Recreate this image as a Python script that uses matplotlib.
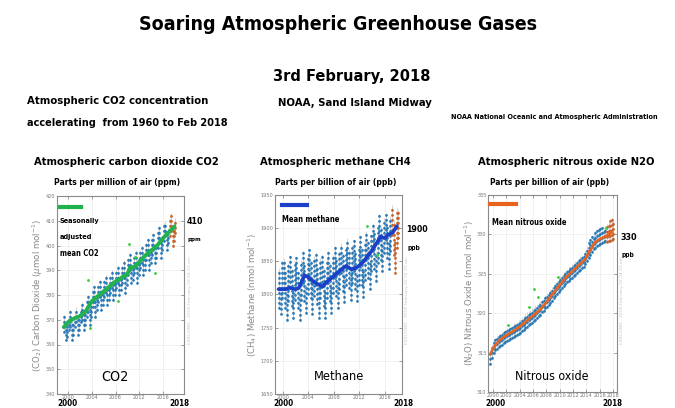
import matplotlib
matplotlib.use("Agg")
import matplotlib.pyplot as plt
from matplotlib import font_manager
from matplotlib.font_manager import FontProperties

#--------------------------------------------------------------------------------------
#Font : look for a condensed / narrow face, the slide font is narrow
ttf = font_manager.fontManager.ttflist
narrow = [f for f in ttf if any(k in f.fname.lower() for k in ("narrow", "condensed"))
          and "oblique" not in f.fname.lower() and "italic" not in f.fname.lower()]
BOLD_FILE = None
REG_FILE = None
for f in narrow:
    if "bold" in f.fname.lower() and BOLD_FILE is None:
        BOLD_FILE = f.fname
    if "bold" not in f.fname.lower() and REG_FILE is None:
        REG_FILE = f.fname
names = set(f.name for f in ttf)
FALLBACK = "Roboto" if "Roboto" in names else "Liberation Sans"

#--------------------------------------------------------------------------------------
#Data : seasonally adjusted / mean lines
co2_mean_t = [1999.3, 2000, 2001, 2002, 2003, 2004, 2005, 2006, 2007, 2008, 2009, 2010,
              2010.4, 2011.3, 2012, 2013, 2014, 2015, 2016, 2017, 2017.9]
co2_mean_v = [367, 369, 370.5, 371.5, 373.5, 377.5, 379.5, 381.5, 383.5, 385.5, 387, 388.5,
              391, 391.5, 393.5, 396, 398, 400, 403, 405.5, 407.7]

ch4_mean_t = [1999.3, 2000.5, 2001, 2002, 2002.5, 2003.4, 2004, 2005, 2006.2, 2007, 2008, 2009,
              2009.9, 2010.8, 2011.5, 2012.5, 2013.5, 2014.5, 2015.3, 2016, 2016.5, 2017.2, 2017.9]
ch4_mean_v = [1808, 1808, 1810, 1808, 1810, 1829, 1826, 1818, 1812, 1820, 1828, 1836,
              1843, 1838, 1840, 1848, 1860, 1874, 1887, 1885, 1890, 1893, 1903]

n2o_mean_t = [1999.6, 2000.2, 2001, 2002, 2003, 2004, 2005, 2006, 2007, 2008, 2009, 2010,
              2011, 2012, 2013, 2013.8, 2014.5, 2015.3, 2016, 2017, 2017.9]
n2o_mean_v = [314.8, 315.8, 316.6, 317.2, 317.7, 318.3, 319.0, 319.7, 320.4, 321.4, 322.5, 323.6,
              324.6, 325.4, 326.2, 326.8, 327.9, 329.0, 329.4, 329.8, 330.3]

#Data : flask sample columns (time, low, high), blue = older, orange = recent
co2_t = [1999.37, 1999.62, 1999.87,
         2000.12, 2000.37, 2000.62, 2000.87, 2001.12, 2001.37, 2001.62, 2001.87,
         2002.12, 2002.37, 2002.62, 2002.87, 2003.12, 2003.37, 2003.62, 2003.87,
         2004.12, 2004.37, 2004.62, 2004.87, 2005.12, 2005.37, 2005.62, 2005.87,
         2006.12, 2006.37, 2006.62, 2006.87, 2007.12, 2007.37, 2007.62, 2007.87,
         2008.12, 2008.37, 2008.62, 2008.87, 2009.12, 2009.37, 2009.62, 2009.87,
         2010.12, 2010.37, 2010.62, 2010.87, 2011.12, 2011.37, 2011.62, 2011.87,
         2012.12, 2012.37, 2012.62, 2012.87, 2013.12, 2013.37, 2013.62, 2013.87,
         2014.12, 2014.37, 2014.62, 2014.87, 2015.12, 2015.37, 2015.62, 2015.87,
         2016.12, 2016.37, 2016.62, 2016.87]
co2_lo = [365, 362, 363,
          366, 367, 362, 364, 367, 369, 364, 366,
          369, 370, 366, 368, 371, 373, 368, 371,
          375, 377, 371, 374, 377, 379, 374, 376,
          379, 381, 376, 378, 381, 383, 378, 380,
          383, 385, 380, 382, 385, 387, 381, 384,
          388, 390, 385, 386, 389, 391, 385, 388,
          391, 393, 388, 390, 394, 396, 390, 393,
          396, 398, 393, 395, 399, 401, 395, 398,
          402, 404, 398, 401]
co2_hi = [372, 369, 368,
          372, 374, 370, 369, 373, 375, 371, 371,
          375, 377, 373, 373, 378, 380, 375, 377,
          382, 384, 379, 380, 384, 386, 381, 382,
          386, 388, 383, 384, 388, 390, 385, 386,
          390, 392, 387, 388, 392, 394, 389, 390,
          395, 397, 392, 392, 396, 398, 393, 394,
          398, 400, 395, 396, 401, 403, 398, 399,
          403, 405, 400, 401, 406, 408, 403, 404,
          409, 410, 406, 407]
co2_new_t = [2017.12, 2017.37, 2017.62, 2017.87, 2018.05]
co2_new_lo = [404, 406, 400, 402, 405]
co2_new_hi = [411, 413, 408, 409, 411]
co2_rej_t = [2003.4, 2003.7, 2008.4, 2010.3, 2011.3, 2014.6]
co2_rej_v = [386, 366.8, 377.7, 400.8, 395.5, 389]

ch4_t = co2_t
ch4_lo = [1780, 1770, 1795,
          1810, 1780, 1762, 1790, 1812, 1782, 1765, 1792,
          1810, 1780, 1762, 1792, 1818, 1790, 1772, 1800,
          1822, 1795, 1770, 1798, 1815, 1785, 1765, 1795,
          1812, 1782, 1765, 1795, 1818, 1790, 1772, 1802,
          1825, 1798, 1780, 1808, 1832, 1805, 1788, 1815,
          1840, 1810, 1792, 1818, 1836, 1808, 1790, 1815,
          1842, 1815, 1796, 1822, 1852, 1825, 1808, 1835,
          1865, 1838, 1820, 1848, 1880, 1852, 1835, 1862,
          1882, 1855, 1838, 1865]
ch4_hi = [1840, 1815, 1850,
          1855, 1835, 1805, 1848, 1858, 1838, 1808, 1850,
          1856, 1836, 1806, 1852, 1865, 1848, 1818, 1860,
          1868, 1850, 1822, 1858, 1862, 1842, 1812, 1855,
          1860, 1840, 1810, 1855, 1866, 1848, 1818, 1860,
          1872, 1855, 1825, 1866, 1878, 1862, 1832, 1872,
          1885, 1868, 1838, 1875, 1882, 1865, 1835, 1872,
          1888, 1870, 1842, 1880, 1896, 1880, 1852, 1890,
          1908, 1892, 1865, 1902, 1920, 1905, 1880, 1915,
          1922, 1908, 1882, 1918]
ch4_new_t = co2_new_t
ch4_new_lo = [1890, 1860, 1833, 1870, 1885]
ch4_new_hi = [1935, 1912, 1880, 1930, 1928]
ch4_rej_t = [2013.2, 2014.7]
ch4_rej_v = [1903, 1859]

n2o_t = co2_t[1:]
n2o_lo = [313.6, 314.3,
          315.0, 315.3, 315.5, 315.7, 315.8, 316.0, 316.2, 316.3,
          316.5, 316.6, 316.7, 316.8, 317.0, 317.1, 317.2, 317.4,
          317.5, 317.7, 317.9, 318.1, 318.3, 318.5, 318.6, 318.8,
          319.0, 319.2, 319.4, 319.6, 319.8, 320.1, 320.3, 320.6,
          320.8, 321.1, 321.3, 321.6, 321.9, 322.2, 322.4, 322.7,
          322.9, 323.2, 323.4, 323.7, 323.9, 324.1, 324.3, 324.5,
          324.7, 324.9, 325.1, 325.3, 325.5, 325.7, 325.9, 326.2,
          326.6, 327.0, 327.4, 327.8, 328.1, 328.3, 328.5, 328.7,
          328.8, 328.9, 329.0, 329.1]
n2o_hi = [315.3, 316.1,
          316.7, 316.9, 317.1, 317.3, 317.4, 317.6, 317.7, 317.9,
          318.1, 318.2, 318.3, 318.4, 318.7, 318.8, 318.9, 319.1,
          319.3, 319.5, 319.7, 319.9, 320.1, 320.3, 320.4, 320.6,
          320.8, 321.0, 321.2, 321.4, 321.6, 321.8, 322.1, 322.3,
          322.6, 322.8, 323.1, 323.3, 323.6, 323.9, 324.1, 324.4,
          324.7, 324.9, 325.2, 325.4, 325.6, 325.8, 326.0, 326.2,
          326.4, 326.6, 326.8, 327.0, 327.2, 327.4, 327.6, 328.0,
          328.5, 329.0, 329.4, 329.8, 330.1, 330.4, 330.6, 330.7,
          330.8, 330.9, 331.0, 331.1]
n2o_new_t = co2_new_t
n2o_new_lo = [329.0, 329.1, 329.2, 329.3, 329.4]
n2o_new_hi = [331.3, 331.6, 331.9, 332.2, 332.0]
n2o_rej_t = [2002.25, 2005.4, 2006.1, 2006.7, 2009.8, 2016.9]
n2o_rej_v = [318.5, 320.8, 323.1, 322.0, 324.6, 330.8]

#--------------------------------------------------------------------------------------
#Layout helpers (pixels of a 675x408 slide)
W, H = 675, 408
fig = plt.figure(figsize=(6.75, 4.08), dpi=100)
fig.patch.set_facecolor("white")
renderer = fig.canvas.get_renderer()
GROW = 1.05   #slide font is narrower, so let the text run a touch wider

def rect(x0, y0, x1, y1):
    return [x0 / W, 1 - y1 / H, (x1 - x0) / W, (y1 - y0) / H]

def font(bold, size):
    path = BOLD_FILE if bold else REG_FILE
    if path:
        fp = FontProperties(fname=path)
    else:
        fp = FontProperties(family=FALLBACK, weight="bold" if bold else "normal")
    fp.set_size(size)
    return fp

def txt(x, y, s, w=None, size=10, bold=True, **kw):
    #text placed in slide pixels; w = width in pixels it has in the slide
    kw.setdefault("ha", "center")
    kw.setdefault("va", "center")
    kw.setdefault("color", "black")
    t = fig.text(x / W, 1 - y / H, s, fontproperties=font(bold, size), **kw)
    if w:
        ext = t.get_window_extent(renderer=renderer)
        t.set_fontproperties(font(bold, size * GROW * w / ext.width))
    return t

BLUE = "#2a7ab8"
ORANGE = "#c8642a"
DOTS = (0, (0.1, 1.7))

def panel(box, xlim, ylim, yticks, xticks, ylabel, t, lo, hi, nt, nlo, nhi,
          rt, rv, mt, mv, mcolor, mlw):
    ax = fig.add_axes(rect(*box))
    ax.vlines(t, lo, hi, color="#cfcfcf", lw=0.6, zorder=1)
    ax.vlines(t, lo, hi, color=BLUE, lw=2.0, linestyles=[DOTS], capstyle="round", zorder=2)
    ax.vlines(nt, nlo, nhi, color="#cfcfcf", lw=0.6, zorder=1)
    ax.vlines(nt, nlo, nhi, color=ORANGE, lw=2.0, linestyles=[DOTS], capstyle="round", zorder=2)
    ax.scatter(rt, rv, s=4, color="#33cc33", zorder=3, linewidths=0)
    ax.plot(mt, mv, color=mcolor, lw=mlw, zorder=4, solid_capstyle="round")
    ax.set_xlim(*xlim)
    ax.set_ylim(*ylim)
    ax.set_xticks(xticks)
    ax.set_yticks(yticks)
    ax.grid(color="#ececec", lw=0.5)
    ax.set_axisbelow(True)
    ax.tick_params(direction="in", length=2, width=0.5, labelsize=3.6, colors="#777777",
                   pad=1.0, top=True, right=True)
    for s in ax.spines.values():
        s.set_color("#8a8a8a")
        s.set_linewidth(0.8)
    ax.set_ylabel(ylabel, fontsize=6.2, color="#888888", family="DejaVu Sans", labelpad=1)
    return ax

ax1 = panel((57, 196, 184, 394), (1998.15, 2019.5), (340, 420), range(340, 421, 10),
            range(2000, 2017, 4), "(CO$_2$) Carbon Dioxide ($\\mu$mol mol$^{-1}$)",
            co2_t, co2_lo, co2_hi, co2_new_t, co2_new_lo, co2_new_hi,
            co2_rej_t, co2_rej_v, co2_mean_t, co2_mean_v, "#22b24c", 2.8)
ax2 = panel((275, 195, 402, 394), (1998.75, 2018.7), (1650, 1950), range(1650, 1951, 50),
            range(2000, 2017, 4), "(CH$_4$) Methane (nmol mol$^{-1}$)",
            ch4_t, ch4_lo, ch4_hi, ch4_new_t, ch4_new_lo, ch4_new_hi,
            ch4_rej_t, ch4_rej_v, ch4_mean_t, ch4_mean_v, "#1c3fc8", 2.6)
ax3 = panel((488, 195, 617, 392), (1999.25, 2018.6), (310, 335), range(310, 336, 5),
            range(2000, 2019, 2), "(N$_2$O) Nitrous Oxide (nmol mol$^{-1}$)",
            n2o_t, n2o_lo, n2o_hi, n2o_new_t, n2o_new_lo, n2o_new_hi,
            n2o_rej_t, n2o_rej_v, n2o_mean_t, n2o_mean_v, "#e8641e", 1.9)

#faint stamp on the right edge of each plot
for xs, yc in [(190, 300), (407, 300), (622, 300)]:
    fig.text(xs / W, 1 - yc / H, "ESRL/GMD - 2018 February-03 04:10 am", rotation=90,
             fontsize=3.2, color="#c8c8c8", family="DejaVu Sans", ha="center", va="center")

#--------------------------------------------------------------------------------------
#Slide texts
txt(338, 25, "Soaring Atmospheric Greenhouse Gases", w=378, size=17)
txt(352, 76, "3rd February, 2018", w=150, size=14)
txt(355, 103, "NOAA, Sand Island Midway", w=145, size=10)
txt(27, 101, "Atmospheric CO2 concentration", w=172, size=10, ha="left")
txt(27, 123, "accelerating  from 1960 to Feb 2018", w=190, size=10, ha="left")
txt(554, 117, "NOAA National Oceanic and Atmospheric Administration", w=201, size=6)

txt(126, 162, "Atmospheric carbon dioxide CO2", w=174, size=10)
txt(335, 162, "Atmospheric methane CH4", w=143, size=10)
txt(566, 162, "Atmospheric nitrous oxide N2O", w=168, size=10)
txt(117, 183, "Parts per million of air (ppm)", w=120, size=8)
txt(336, 183, "Parts per billion of air (ppb)", w=115, size=8)
txt(550, 183, "Parts per billion of air (ppb)", w=114, size=8)

#legends drawn as short strokes + text
fig.lines.append(plt.Line2D([60 / W, 81 / W], [1 - 207 / H, 1 - 207 / H], color="#22b24c",
                            lw=3, transform=fig.transFigure))
txt(60, 221, "Seasonally", w=38, size=8, ha="left")
txt(60, 237, "adjusted", w=31, size=8, ha="left")
txt(60, 253, "mean CO2", w=37, size=8, ha="left")
fig.lines.append(plt.Line2D([282 / W, 307 / W], [1 - 205 / H, 1 - 205 / H], color="#1c3fc8",
                            lw=3, transform=fig.transFigure))
txt(282, 220, "Mean methane", w=55, size=8, ha="left")
fig.lines.append(plt.Line2D([490 / W, 516 / W], [1 - 204 / H, 1 - 204 / H], color="#e8641e",
                            lw=3, transform=fig.transFigure))
txt(492, 223, "Mean nitrous oxide", w=71, size=8, ha="left")

txt(187, 222, "410", w=16, size=10, ha="left")
txt(187, 240, "ppm", w=13, size=6.5, ha="left")
txt(406, 230, "1900", w=21, size=10, ha="left")
txt(407, 248, "ppb", w=12, size=6.5, ha="left")
txt(621, 237, "330", w=16, size=10, ha="left")
txt(621, 255, "ppb", w=12, size=6.5, ha="left")

txt(115, 377, "CO2", w=26, size=12, bold=False)
txt(339, 377, "Methane", w=48, size=12, bold=False)
txt(552, 377, "Nitrous oxide", w=70, size=12, bold=False)

for xs, s in [(67, "2000"), (179, "2018"), (283, "2000"), (403, "2018"),
              (495, "2000"), (612, "2018")]:
    txt(xs, 406, s, w=19, size=8, va="baseline")

fig.savefig("out.png", dpi=100, facecolor="white")
